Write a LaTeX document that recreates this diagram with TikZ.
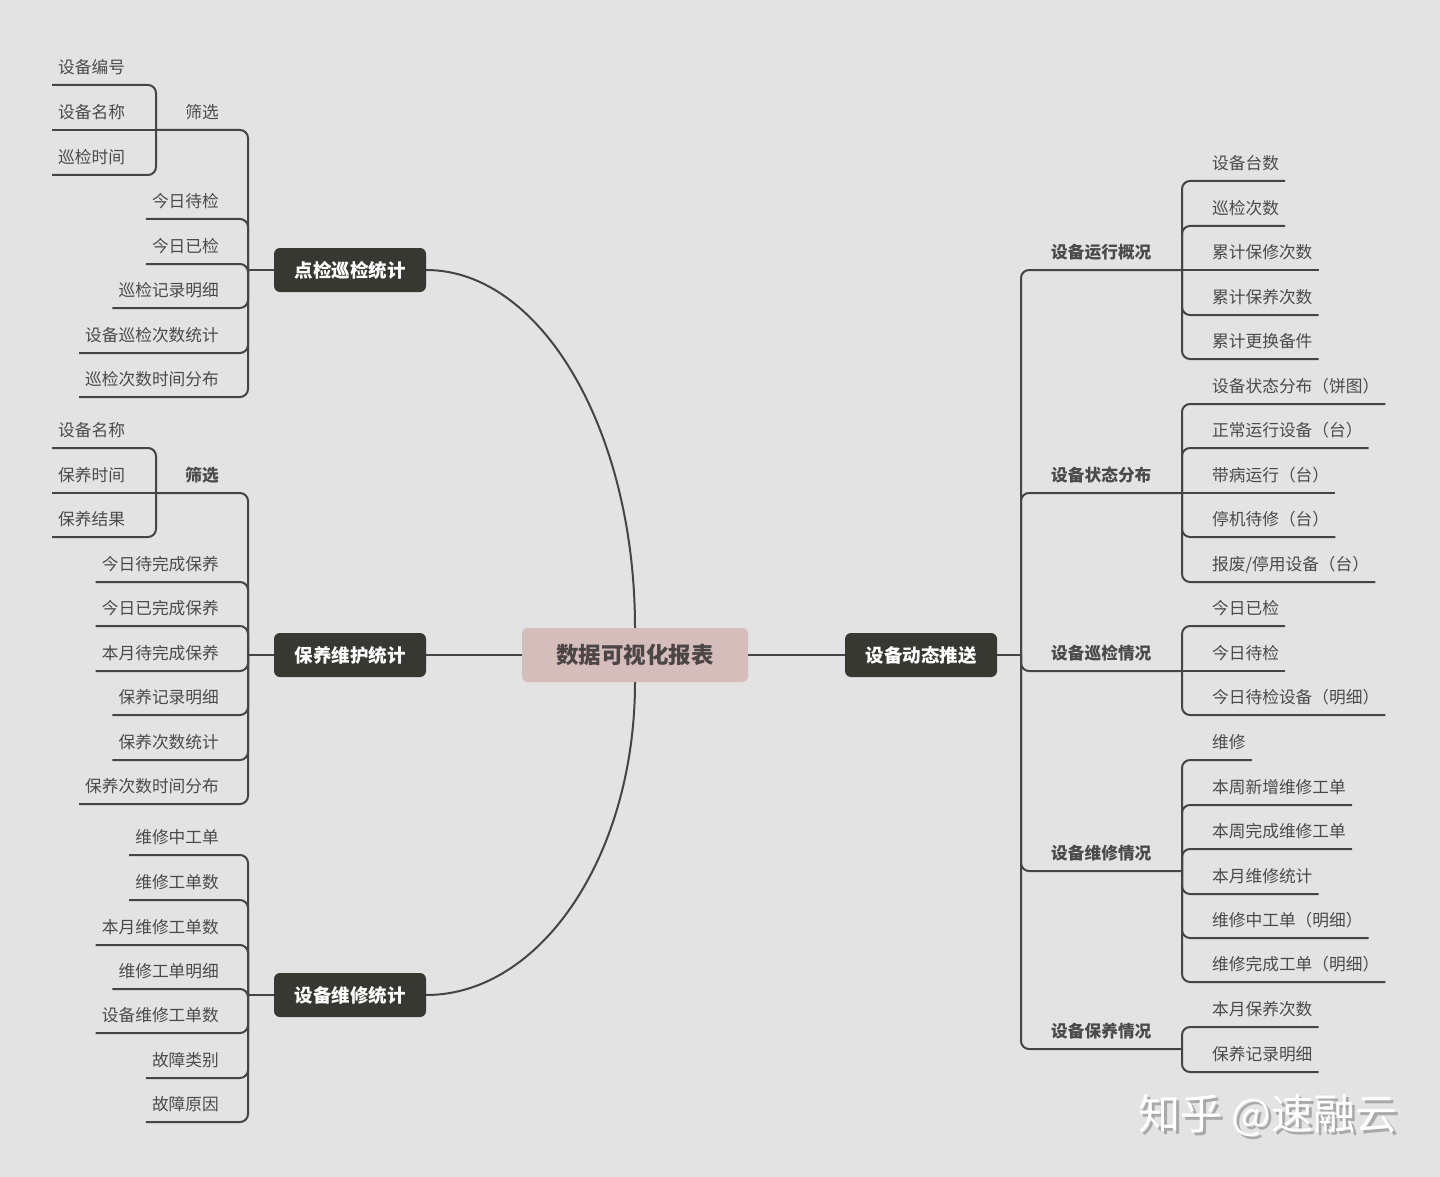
\documentclass[tikz,border=0pt]{standalone}
\usepackage{fontspec}
\setmainfont{Noto Sans CJK SC}

\definecolor{bgcol}{HTML}{E3E3E3}
\definecolor{linecol}{HTML}{454545}
\definecolor{leafcol}{HTML}{4A4A4A}
\definecolor{darkbox}{HTML}{373832}
\definecolor{rootpink}{HTML}{D5BDBC}
\definecolor{roottext}{HTML}{4B4546}
\definecolor{wmgray}{HTML}{A9A9A9}

\newcommand{\wmshadow}[1]{\rlap{\kern3pt\raisebox{-3pt}{\color{wmgray}#1}}#1}

\begin{document}
\begin{tikzpicture}[
	x=1pt, y=-1pt,
	rootbox/.style={
		rectangle,
		rounded corners=5pt,
		fill=rootpink,
		text=roottext,
		minimum width=226pt,
		minimum height=54pt,
		inner sep=0pt,
		font=\fontsize{22.5}{26}\selectfont\bfseries
	},
	cat/.style={
		rectangle,
		rounded corners=6pt,
		fill=darkbox,
		text=white,
		minimum width=152pt,
		minimum height=44pt,
		inner sep=0pt,
		font=\fontsize{18.5}{22}\selectfont\bfseries
	},
	leaf/.style={
		inner xsep=6pt,
		inner ysep=7pt,
		text height=12pt,
		text depth=4pt,
		text=leafcol,
		font=\fontsize{16.7}{20}\selectfont
	},
	leafl/.style={leaf, anchor=south east},
	leafr/.style={leaf, anchor=south west},
	head/.style={leafr, font=\fontsize{16.7}{20}\selectfont\bfseries},
	link/.style={line width=2pt, draw=linecol, rounded corners=8pt},
	wmtext/.style={text=white, font=\fontsize{42}{46}\selectfont}
]

% fondo
\fill[bgcol] (0,0) rectangle (1440,1177);

% nodo central
\node[rootbox] (root) at (635,655) {数据可视化报表};

% rama 1: 点检巡检统计
\node[cat] (c1) at (350,270) {点检巡检统计};
\coordinate (j1) at (248,270);
\coordinate (s1) at (156,130);
\node[leafl] (f1) at (225,130) {筛选};
\node[leafr] (f1a) at (52,85) {设备编号};
\node[leafr] (f1b) at (52,130) {设备名称};
\node[leafr] (f1c) at (52,175) {巡检时间};
\node[leafl] (a1) at (225,219) {今日待检};
\node[leafl] (a2) at (225,264) {今日已检};
\node[leafl] (a3) at (225,308) {巡检记录明细};
\node[leafl] (a4) at (225,353) {设备巡检次数统计};
\node[leafl] (a5) at (225,397) {巡检次数时间分布};

% rama 2: 保养维护统计
\node[cat] (c2) at (350,655) {保养维护统计};
\coordinate (j2) at (248,655);
\coordinate (s2) at (156,493);
\node[leafl, font=\fontsize{16.7}{20}\selectfont\bfseries] (f2) at (225,493) {筛选};
\node[leafr] (f2a) at (52,448) {设备名称};
\node[leafr] (f2b) at (52,493) {保养时间};
\node[leafr] (f2c) at (52,537) {保养结果};
\node[leafl] (b1) at (225,582) {今日待完成保养};
\node[leafl] (b2) at (225,626) {今日已完成保养};
\node[leafl] (b3) at (225,671) {本月待完成保养};
\node[leafl] (b4) at (225,715) {保养记录明细};
\node[leafl] (b5) at (225,760) {保养次数统计};
\node[leafl] (b6) at (225,804) {保养次数时间分布};

% rama 3: 设备维修统计
\node[cat] (c3) at (350,995) {设备维修统计};
\coordinate (j3) at (248,995);
\node[leafl] (d1) at (225,855) {维修中工单};
\node[leafl] (d2) at (225,900) {维修工单数};
\node[leafl] (d3) at (225,945) {本月维修工单数};
\node[leafl] (d4) at (225,989) {维修工单明细};
\node[leafl] (d5) at (225,1033) {设备维修工单数};
\node[leafl] (d6) at (225,1078) {故障类别};
\node[leafl] (d7) at (225,1122) {故障原因};

% rama 4: 设备动态推送
\node[cat] (c4) at (921,655) {设备动态推送};
\coordinate (j4) at (1021,655);

\node[head] (h1) at (1045,270) {设备运行概况};
\coordinate (s41) at (1182,270);
\node[leafr] (r11) at (1206,181) {设备台数};
\node[leafr] (r12) at (1206,226) {巡检次数};
\node[leafr] (r13) at (1206,270) {累计保修次数};
\node[leafr] (r14) at (1206,315) {累计保养次数};
\node[leafr] (r15) at (1206,359) {累计更换备件};

\node[head] (h2) at (1045,493) {设备状态分布};
\coordinate (s42) at (1182,493);
\node[leafr] (r21) at (1206,404) {设备状态分布（饼图）};
\node[leafr] (r22) at (1206,448) {正常运行设备（台）};
\node[leafr] (r23) at (1206,493) {带病运行（台）};
\node[leafr] (r24) at (1206,537) {停机待修（台）};
\node[leafr] (r25) at (1206,582) {报废/停用设备（台）};

\node[head] (h3) at (1045,671) {设备巡检情况};
\coordinate (s43) at (1182,671);
\node[leafr] (r31) at (1206,626) {今日已检};
\node[leafr] (r32) at (1206,671) {今日待检};
\node[leafr] (r33) at (1206,715) {今日待检设备（明细）};

\node[head] (h4) at (1045,871) {设备维修情况};
\coordinate (s44) at (1182,871);
\node[leafr] (r41) at (1206,760) {维修};
\node[leafr] (r42) at (1206,805) {本周新增维修工单};
\node[leafr] (r43) at (1206,849) {本周完成维修工单};
\node[leafr] (r44) at (1206,894) {本月维修统计};
\node[leafr] (r45) at (1206,938) {维修中工单（明细）};
\node[leafr] (r46) at (1206,982) {维修完成工单（明细）};

\node[head] (h5) at (1045,1049) {设备保养情况};
\coordinate (s45) at (1182,1049);
\node[leafr] (r51) at (1206,1027) {本月保养次数};
\node[leafr] (r52) at (1206,1072) {保养记录明细};

% marca de agua
\node[wmtext] (wm) at (1268,1117) {\wmshadow{知乎 @速融云}};

% conexiones centrales
\draw[link] (root.north) .. controls (635,430) and (541,270) .. (c1.east);
\draw[link] (root.west) -- (c2.east);
\draw[link] (root.south) .. controls (635,855) and (541,995) .. (c3.east);
\draw[link] (root.east) -- (c4.west);

% conexiones rama 1
\draw[link] (c1.west) -- (j1);
\draw[link] (j1) |- (s1);
\draw[link] (s1) |- (f1a.south west);
\draw[link] (s1) -- (f1b.south west);
\draw[link] (s1) |- (f1c.south west);
\draw[link] (j1) |- (a1.south west);
\draw[link] (j1) |- (a2.south west);
\draw[link] (j1) |- (a3.south west);
\draw[link] (j1) |- (a4.south west);
\draw[link] (j1) |- (a5.south west);

% conexiones rama 2
\draw[link] (c2.west) -- (j2);
\draw[link] (j2) |- (s2);
\draw[link] (s2) |- (f2a.south west);
\draw[link] (s2) -- (f2b.south west);
\draw[link] (s2) |- (f2c.south west);
\draw[link] (j2) |- (b1.south west);
\draw[link] (j2) |- (b2.south west);
\draw[link] (j2) |- (b3.south west);
\draw[link] (j2) |- (b4.south west);
\draw[link] (j2) |- (b5.south west);
\draw[link] (j2) |- (b6.south west);

% conexiones rama 3
\draw[link] (c3.west) -- (j3);
\draw[link] (j3) |- (d1.south west);
\draw[link] (j3) |- (d2.south west);
\draw[link] (j3) |- (d3.south west);
\draw[link] (j3) |- (d4.south west);
\draw[link] (j3) |- (d5.south west);
\draw[link] (j3) |- (d6.south west);
\draw[link] (j3) |- (d7.south west);

% conexiones rama 4
\draw[link] (c4.east) -- (j4);
\draw[link] (j4) |- (s41);
\draw[link] (j4) |- (s42);
\draw[link] (j4) |- (s43);
\draw[link] (j4) |- (s44);
\draw[link] (j4) |- (s45);
\draw[link] (s41) |- (r11.south east);
\draw[link] (s41) |- (r12.south east);
\draw[link] (s41) -- (r13.south east);
\draw[link] (s41) |- (r14.south east);
\draw[link] (s41) |- (r15.south east);
\draw[link] (s42) |- (r21.south east);
\draw[link] (s42) |- (r22.south east);
\draw[link] (s42) -- (r23.south east);
\draw[link] (s42) |- (r24.south east);
\draw[link] (s42) |- (r25.south east);
\draw[link] (s43) |- (r31.south east);
\draw[link] (s43) -- (r32.south east);
\draw[link] (s43) |- (r33.south east);
\draw[link] (s44) |- (r41.south east);
\draw[link] (s44) |- (r42.south east);
\draw[link] (s44) |- (r43.south east);
\draw[link] (s44) |- (r44.south east);
\draw[link] (s44) |- (r45.south east);
\draw[link] (s44) |- (r46.south east);
\draw[link] (s45) |- (r51.south east);
\draw[link] (s45) |- (r52.south east);

\end{tikzpicture}
\end{document}
